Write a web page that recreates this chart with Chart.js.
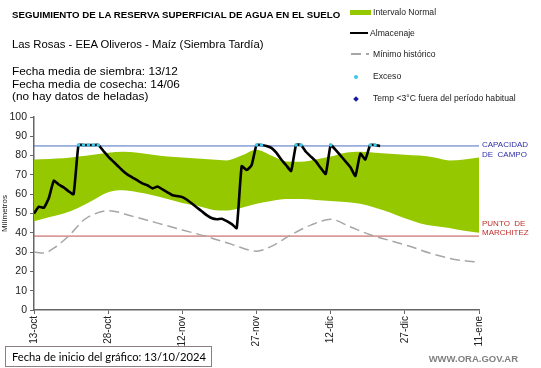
<!DOCTYPE html>
<html>
<head>
<meta charset="utf-8">
<script src="https://cdn.jsdelivr.net/npm/chart.js@4"></script>
<style>
  body { margin: 0; background: #fff; font-family: "Liberation Sans", Arial, sans-serif; }
  #wrap { position: relative; width: 541px; height: 368px; overflow: hidden; }
  #chart { position: absolute; left: 0; top: 0; }
  .txt { position: absolute; white-space: nowrap; color: #000; }
  .title { left: 12px; top: 9px; font-size: 9.7px; font-weight: bold; }
  .sub { left: 12px; top: 38px; font-size: 11.3px; }
  .info { left: 12px; top: 65px; font-size: 11.8px; line-height: 12.5px; }
  .leg { font-size: 8.6px; color: #222; left: 373px; }
  .sw { position: absolute; }
  .box { position: absolute; left: 5px; top: 346px; width: 205px; height: 19px; border: 1px solid #8c7f7f;
         font-family: Lato, "Open Sans", sans-serif; font-size: 11.2px; line-height: 19px; white-space: nowrap; }
  .box span { position: absolute; top: 0; }
  .web { right: 23px; top: 353px; font-size: 9.5px; font-weight: bold; color: #808080; }
</style>
</head>
<body>
<div id="wrap">
  <canvas id="chart" width="541" height="368"></canvas>
  <div class="txt title">SEGUIMIENTO DE LA RESERVA SUPERFICIAL DE AGUA EN EL SUELO</div>
  <div class="txt sub">Las Rosas - EEA Oliveros - Maíz (Siembra Tardía)</div>
  <div class="txt info">Fecha media de siembra: 13/12<br>Fecha media de cosecha: 14/06<br>(no hay datos de heladas)</div>

  <div class="sw" style="left:350px;top:10px;width:21px;height:5px;background:#96c800"></div>
  <div class="txt leg" style="top:7px">Intervalo Normal</div>
  <div class="sw" style="left:350px;top:32px;width:18px;height:2px;background:#000"></div>
  <div class="txt leg" style="left:370px;top:28px">Almacenaje</div>
  <div class="sw" style="left:351px;top:53px;width:10px;height:1.5px;background:#a6a6a6"></div>
  <div class="sw" style="left:366px;top:53px;width:3px;height:1.5px;background:#a6a6a6"></div>
  <div class="txt leg" style="top:49px">Mínimo histórico</div>
  <div class="sw" style="left:354px;top:75px;width:4px;height:4px;border-radius:2px;background:#3cc8e8"></div>
  <div class="txt leg" style="top:71px">Exceso</div>
  <div class="sw" style="left:354px;top:97px;width:4px;height:4px;transform:rotate(45deg);background:#1a1aa0"></div>
  <div class="txt leg" style="top:93px">Temp &lt;3°C fuera del período habitual</div>

  <div class="box"><span style="left:6px">Fecha de inicio del gráfico:</span><span style="left:138px">13/10/2024</span></div>
  <div class="txt web">WWW.ORA.GOV.AR</div>
</div>
<script>
// eje x: dias desde 13/10/2024
const tickLabels = ['13-oct', '28-oct', '12-nov', '27-nov', '12-dic', '27-dic', '11-ene'];

const bandDays = [0, 3, 6, 9, 12, 15, 18, 21, 24, 27, 30, 33, 36, 39, 42, 45, 48, 51, 54, 57, 60, 63, 66, 69, 72, 75, 78, 81, 84, 87, 90];
const normalHigh = [78, 78.3, 78.6, 79.5, 80.5, 81.5, 82, 81.5, 80.5, 79.5, 79, 78.5, 78, 77.5, 80, 83, 80, 77, 76.8, 78, 79.5, 81.5, 82, 81.5, 81, 80.5, 80, 79, 77.5, 78, 79];
const normalLow = [46, 48, 50, 53, 57, 61, 62, 61, 59.5, 57.5, 55.5, 54, 52, 51.5, 53, 55, 56.5, 57.5, 57.5, 57, 56.5, 56, 55, 53, 50.5, 47.5, 45, 43.5, 42.5, 41, 40];

const minDays = [0, 2, 4, 6, 8, 10, 12, 15, 20, 25, 30, 35, 40, 45, 48, 52, 56, 60, 64, 68, 72, 76, 80, 84, 87, 90];
const minHist = [30, 29.5, 32, 36, 41, 46.5, 49.5, 51.5, 48.5, 45, 41.5, 38, 34, 30.5, 33, 39, 44, 47, 43, 39, 36, 33, 29.5, 26.8, 25.5, 24.8];

// almacenaje diario desde el dia 0
const storage = [50, 53.5, 53, 58, 67, 65, 63.5, 61.5, 60, 85.5, 85.5, 85.5, 85.5, 85.5, 82.5, 79.5, 77, 74.5, 72, 70,
  68.5, 67, 65.5, 64.5, 63, 64, 62.5, 61, 59.5, 59, 58.5, 57, 55, 53, 51, 49, 47.5, 47, 47.3, 46,
  44.5, 42.5, 74.5, 72.5, 75, 85.5, 85.5, 85, 84, 81.5, 78, 75, 72, 85.5, 85.5, 82, 79.5, 77, 73.5, 70.5,
  85.5, 83, 80, 77, 74, 69.5, 81, 78, 85.5, 85.5, 85];

const excesoDays = [9, 10, 11, 12, 13, 45, 46, 53, 54, 60, 68, 69];
const excesoVals = [85.5, 85.5, 85.5, 85.5, 85.5, 85.5, 85.5, 85.5, 85.5, 85.5, 85.5, 85.5];

const fieldCapacity = 85;
const wiltingPoint = 38.3;
const lastDay = 90;

const pts = (xs, ys) => xs.map((x, i) => ({ x: x, y: ys[i] }));

const lineLabels = {
    id: 'lineLabels',
    afterDraw(chart) {
        const ctx = chart.ctx;
        const y = chart.scales.y;
        const x0 = chart.chartArea.right + 3;
        ctx.save();
        ctx.font = '8px "Liberation Sans", Arial';
        ctx.textBaseline = 'middle';
        ctx.fillStyle = '#2e2ea8';
        const yc = y.getPixelForValue(fieldCapacity);
        ctx.fillText('CAPACIDAD', x0, yc - 1);
        ctx.fillText('DE  CAMPO', x0, yc + 9);
        ctx.fillStyle = '#c0302a';
        const yw = y.getPixelForValue(wiltingPoint);
        ctx.fillText('PUNTO  DE', x0, yw - 12);
        ctx.fillText('MARCHITEZ', x0, yw - 3);
        ctx.restore();
    }
};

Chart.defaults.font.family = '"Liberation Sans", Arial, sans-serif';

new Chart(document.getElementById('chart'), {
    type: 'line',
    data: {
        datasets: [
            {
                label: 'Exceso',
                data: pts(excesoDays, excesoVals),
                showLine: false,
                pointRadius: 1.8,
                pointBackgroundColor: '#3cc8e8',
                pointBorderWidth: 0
            },
            {
                label: 'Almacenaje',
                data: storage.map((v, i) => ({ x: i, y: v })),
                borderColor: '#000',
                borderWidth: 2.6,
                pointRadius: 0,
                tension: 0.15,
                fill: false
            },
            {
                label: 'Mínimo histórico',
                data: pts(minDays, minHist),
                borderColor: '#a6a6a6',
                borderWidth: 1.5,
                borderDash: [10, 5],
                pointRadius: 0,
                cubicInterpolationMode: 'monotone',
                fill: false
            },
            {
                label: 'cc',
                data: [{ x: 0, y: fieldCapacity }, { x: lastDay, y: fieldCapacity }],
                borderColor: '#4a6fc0',
                borderWidth: 1,
                pointRadius: 0
            },
            {
                label: 'pm',
                data: [{ x: 0, y: wiltingPoint }, { x: lastDay, y: wiltingPoint }],
                borderColor: '#c05050',
                borderWidth: 1,
                pointRadius: 0
            },
            {
                label: 'Intervalo Normal',
                data: pts(bandDays, normalHigh),
                borderWidth: 0,
                pointRadius: 0,
                backgroundColor: '#96c800',
                cubicInterpolationMode: 'monotone',
                fill: 6
            },
            {
                label: 'low',
                data: pts(bandDays, normalLow),
                borderWidth: 0,
                pointRadius: 0,
                cubicInterpolationMode: 'monotone',
                fill: false
            }
        ]
    },
    options: {
        responsive: false,
        animation: false,
        devicePixelRatio: 1,
        layout: { padding: { top: 117, right: 62, left: 0, bottom: 0 } },
        plugins: { legend: { display: false }, tooltip: { enabled: false } },
        scales: {
            x: {
                type: 'linear',
                min: 0,
                max: lastDay,
                afterFit(scale) { scale.height = 58; },
                border: { color: '#666', width: 1.5 },
                grid: { drawOnChartArea: false, drawTicks: true, tickLength: 4, color: '#666' },
                ticks: {
                    stepSize: 15,
                    minRotation: 90,
                    maxRotation: 90,
                    color: '#222',
                    font: { size: 10 },
                    padding: 2,
                    callback: (v) => tickLabels[v / 15]
                }
            },
            y: {
                min: 0,
                max: 100,
                afterFit(scale) { scale.width = 34; },
                border: { color: '#666', width: 1.5 },
                grid: { drawOnChartArea: false, drawTicks: true, tickLength: 4, color: '#666' },
                ticks: { stepSize: 10, color: '#222', font: { size: 10.5 }, padding: 3 },
                title: { display: true, text: 'Milímetros', font: { size: 8 }, color: '#222', padding: 0 }
            }
        }
    },
    plugins: [lineLabels]
});
</script>
</body>
</html>
